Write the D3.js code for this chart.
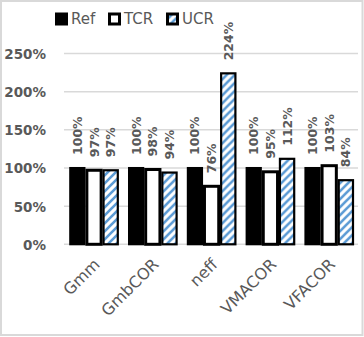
<!DOCTYPE html>
<html><head><meta charset="utf-8">
<script src="https://cdn.jsdelivr.net/npm/d3@7/dist/d3.min.js"></script>
<style>body{margin:0;background:#fff}svg{display:block}</style>
</head><body>
<script>
const categories = ["Gmm","GmbCOR","neff","VMACOR","VFACOR"];
const seriesNames = ["Ref","TCR","UCR"];
const refValues = [1.00,1.00,1.00,1.00,1.00];
const tcrValues = [0.97,0.98,0.76,0.95,1.03];
const ucrValues = [0.97,0.94,2.24,1.12,0.84];
const yTicks = [0,0.5,1,1.5,2,2.5];

const W=364,H=337;
const svg=d3.select("body").append("svg").attr("width",W).attr("height",H);
const defs=svg.append("defs");
const pat=defs.append("pattern").attr("id","ucr").attr("patternUnits","userSpaceOnUse")
  .attr("width",8).attr("height",8);
pat.append("rect").attr("width",8).attr("height",8).attr("fill","#fff");
pat.append("path").attr("d","M-2,2 L2,-2 M0,8 L8,0 M6,10 L10,6")
  .attr("stroke","#5B9BD5").attr("stroke-width",2.6);

const fills={Ref:"#000",TCR:"#fff",UCR:"url(#ucr)"};
const strokeW={Ref:2,TCR:3,UCR:2.2};

// border
svg.append("rect").attr("x",1).attr("y",1).attr("width",W-2.5).attr("height",H-3)
  .attr("fill","none").attr("stroke","#d9d9d9").attr("stroke-width",2);

const x0=d3.scaleBand().domain(categories).range([64,358]);
const x1=d3.scaleBand().domain(seriesNames).range([5,55]);
const y=d3.scaleLinear().domain([0,2.5]).range([244.3,53.5]);

// gridlines
svg.append("g").selectAll("line").data(yTicks).join("line")
  .attr("x1",64).attr("x2",358).attr("y1",d=>y(d)).attr("y2",d=>y(d))
  .attr("stroke","#d9d9d9").attr("stroke-width",1.5);

// y labels
const fmt=d3.format(".0%");
svg.append("g").selectAll("text").data(yTicks).join("text")
  .attr("x",46).attr("y",d=>y(d)+5.5).attr("text-anchor","end")
  .attr("font-family","DejaVu Sans").attr("font-weight","bold").attr("font-size",13.5)
  .attr("fill","#595959").text(d=>fmt(d));

const data=categories.map((c,i)=>({cat:c,vals:[
  {s:"Ref",v:refValues[i]},{s:"TCR",v:tcrValues[i]},{s:"UCR",v:ucrValues[i]}]}));

const g=svg.append("g").selectAll("g").data(data).join("g")
  .attr("transform",d=>`translate(${x0(d.cat)},0)`);
const bw=x1.bandwidth();
g.selectAll("rect").data(d=>d.vals).join("rect")
  .attr("x",d=>x1(d.s)+1.2).attr("width",bw-2.4)
  .attr("y",d=>y(d.v)).attr("height",d=>y(0)-y(d.v))
  .attr("fill",d=>fills[d.s]).attr("stroke","#000").attr("stroke-width",d=>strokeW[d.s]);

g.selectAll("text").data(d=>d.vals).join("text")
  .attr("transform",d=>`translate(${x1(d.s)+bw/2+4.5},${y(d.v)-13}) rotate(-90)`)
  .attr("font-family","DejaVu Sans").attr("font-weight","bold").attr("font-size",12.5)
  .attr("fill","#595959").text(d=>fmt(d.v));

// x labels
svg.append("g").selectAll("text").data(categories).join("text")
  .attr("transform",d=>`translate(${x0(d)+x0.bandwidth()/2-1},${257}) rotate(-45)`)
  .attr("text-anchor","end").attr("dy","0.75em")
  .attr("font-family","DejaVu Sans").attr("font-size",16).attr("fill","#595959").text(d=>d);

// legend
const legX=[55,108,166];
const lg=svg.append("g").selectAll("g").data(seriesNames).join("g")
  .attr("transform",(d,i)=>`translate(${legX[i]},12.5)`);
lg.append("rect").attr("x",d=>d==="Ref"?0.5:1.5).attr("y",d=>d==="Ref"?0.5:1.5)
  .attr("width",d=>d==="Ref"?12:10).attr("height",d=>d==="Ref"?12:10)
  .attr("fill",d=>fills[d]).attr("stroke","#000").attr("stroke-width",d=>d==="Ref"?1:3);
lg.append("text").attr("x",16).attr("y",11.5)
  .attr("font-family","DejaVu Sans").attr("font-size",15).attr("fill","#595959").text(d=>d);
</script>
</body></html>
